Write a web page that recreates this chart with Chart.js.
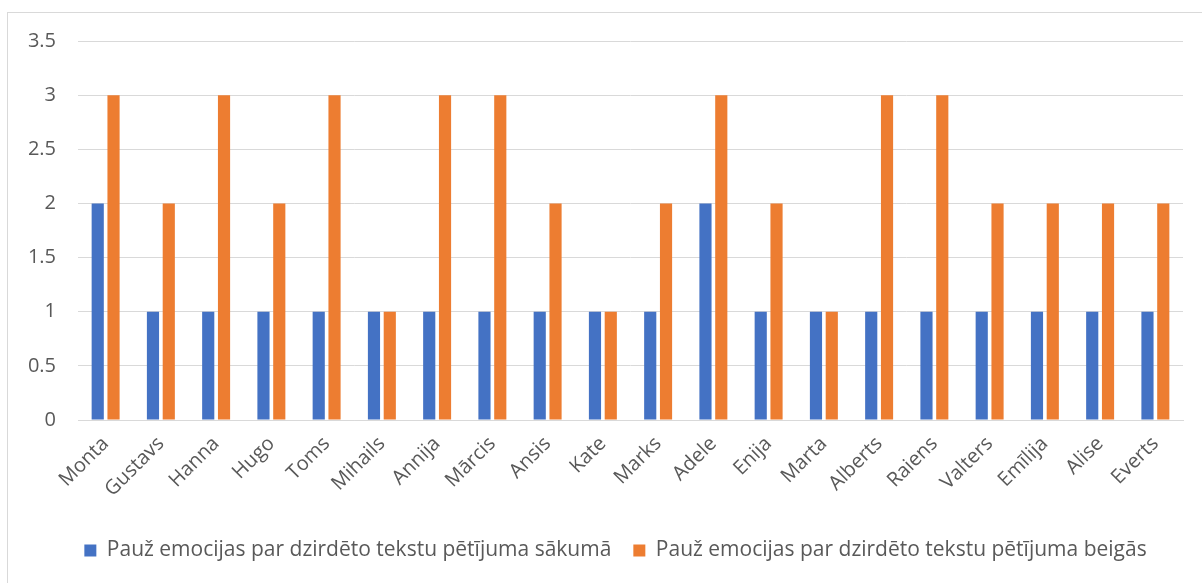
<!DOCTYPE html>
<html>
<head>
<meta charset="utf-8">
<script src="https://cdn.jsdelivr.net/npm/chart.js@4/dist/chart.umd.min.js"></script>
<style>
html,body{margin:0;padding:0;background:#fff;overflow:hidden;}
#frame{position:absolute;left:7px;top:12px;width:1210px;height:600px;border:1px solid #d9d9d9;box-sizing:border-box;}
#wrap{position:absolute;left:0;top:0;width:1202px;height:583px;}
</style>
</head>
<body>
<div id="frame"></div>
<div id="wrap"><canvas id="c"></canvas></div>
<script>
const categories = ["Monta","Gustavs","Hanna","Hugo","Toms","Mihails","Annija","Mārcis","Ansis","Kate","Marks","Adele","Enija","Marta","Alberts","Raiens","Valters","Emīlija","Alise","Everts"];
const seriesStart = [2,1,1,1,1,1,1,1,1,1,1,2,1,1,1,1,1,1,1,1];
const seriesEnd   = [3,2,3,2,3,1,3,3,2,1,2,3,2,1,3,3,2,2,2,2];
const seriesNames = ["Pauž emocijas par dzirdēto tekstu pētījuma sākumā","Pauž emocijas par dzirdēto tekstu pētījuma beigās"];
const yTicks = [0,0.5,1,1.5,2,2.5,3,3.5];

const FONT = "'Open Sans', sans-serif";
const TXT = "#595959";

const shiftLegend = {
  id: 'shiftLegend',
  afterLayout(chart) {
    const lg = chart.legend;
    if (lg) { lg.left += 24; lg.right += 24; }
  }
};

new Chart(document.getElementById('c'), {
  type: 'bar',
  data: {
    labels: categories,
    datasets: [
      {label: seriesNames[0], data: seriesStart, backgroundColor: '#4472C4', borderColor: '#ffffff', borderWidth: 0},
      {label: seriesNames[1], data: seriesEnd, backgroundColor: '#ED7D31', borderColor: '#ffffff', borderWidth: 0}
    ]
  },
  plugins: [shiftLegend],
  options: {
    responsive: true,
    maintainAspectRatio: false,
    animation: false,
    datasets: {bar: {categoryPercentage: 0.572, barPercentage: 0.77}},
    layout: {padding: {left: 0, right: 19, top: 41, bottom: 12}},
    plugins: {
      tooltip: {enabled: false},
      legend: {
        position: 'bottom',
        labels: {
          boxWidth: 12, boxHeight: 12, padding: 22,
          color: TXT, font: {family: FONT, size: 21}
        }
      }
    },
    scales: {
      x: {
        grid: {display: false},
        border: {display: true, color: '#d9d9d9', width: 1},
        ticks: {color: TXT, font: {family: FONT, size: 20}, maxRotation: 45, minRotation: 45, autoSkip: false, padding: 4},
        afterFit: (s) => { s.height = 98; }
      },
      y: {
        min: 0, max: 3.5,
        afterBuildTicks: (s) => { s.ticks = yTicks.map(v => ({value: v})); },
        grid: {color: '#d9d9d9', lineWidth: 1, drawTicks: false},
        border: {display: false},
        ticks: {color: TXT, font: {family: FONT, size: 20}, padding: 22, callback: (v) => String(v)},
        afterFit: (s) => { s.width = 78; }
      }
    }
  }
});
</script>
</body>
</html>
